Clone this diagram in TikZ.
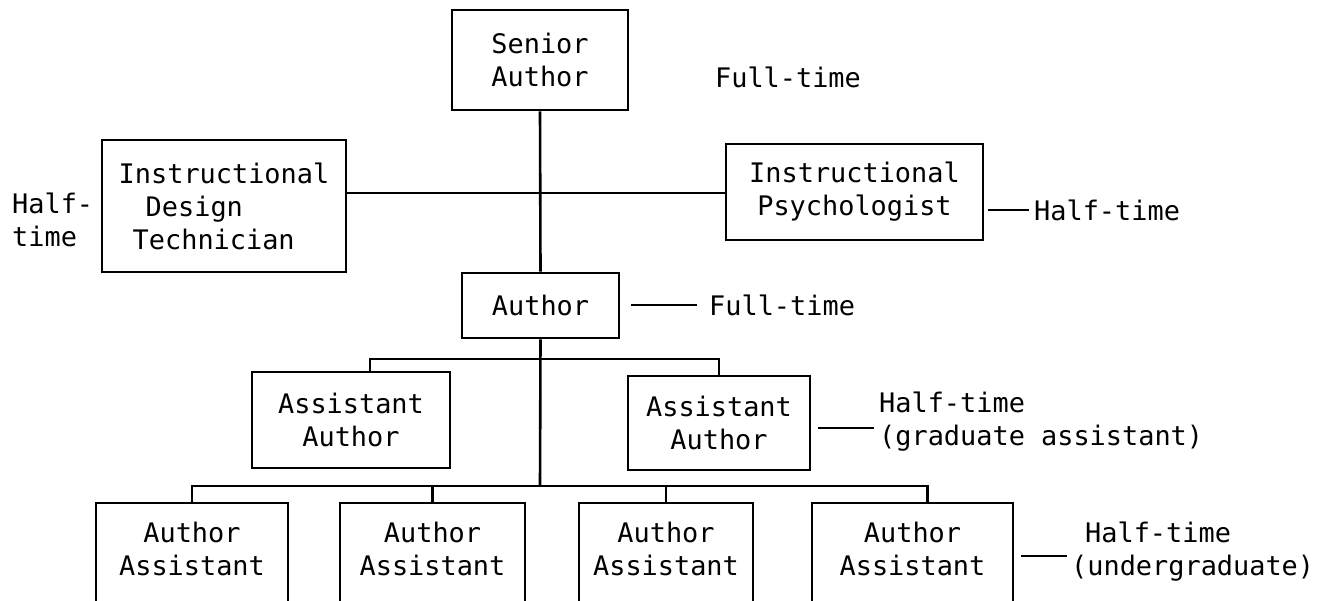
\documentclass[tikz,border=0pt]{standalone}
\usepackage{fontspec}
\newfontfamily\tf{DejaVu Sans Mono}
\usetikzlibrary{calc}
\begin{document}
\begin{tikzpicture}[x=1pt,y=-1pt,
  box/.style={draw, line width=2.6pt, inner sep=0pt, align=center, font={\tf\fontsize{26.9}{33}\selectfont}},
  lbl/.style={inner sep=0pt, align=left, font={\tf\fontsize{26.9}{33}\selectfont}},
  conn/.style={line width=2.6pt}]
\useasboundingbox (0,0) rectangle (1328,601);
\clip (0,0) rectangle (1328,601);
\fill[white] (0,0) rectangle (1328,601);
% boxes
\node[box, minimum width=176pt, minimum height=100pt] (senior) at (540,60) {Senior\\Author};
\node[lbl, anchor=center] (ft1) at (788,77) {Full-time};
\node[box, align=left, minimum width=244pt, minimum height=132pt] (idt) at (224,206) {Instructional\\\hspace*{27pt}Design\\\hspace*{14pt}Technician};
\node[lbl, anchor=west] (ht0) at (12,220) {Half-\\time};
\node[box, minimum width=257pt, minimum height=96pt] (ip) at (854.5,192) {Instructional\\Psychologist};
\node[lbl, anchor=west] (ht1) at (1034,210) {Half-time};
\node[box, minimum width=157pt, minimum height=65pt] (author) at (540.5,305.5) {Author};
\node[lbl, anchor=west] (ft2) at (709,305) {Full-time};
\node[box, minimum width=198pt, minimum height=96pt] (aa1) at (351,420) {Assistant\\Author};
\node[box, minimum width=182pt, minimum height=94pt] (aa2) at (719,423) {Assistant\\Author};
\node[lbl, anchor=west] (ht2) at (879,422) {Half-time\\(graduate assistant)};
\node[box, minimum width=192pt, minimum height=134pt] (bx1) at (192,570) {Author\\Assistant\\\strut};
\node[box, minimum width=185pt, minimum height=134pt] (bx2) at (432.5,570) {Author\\Assistant\\\strut};
\node[box, minimum width=174pt, minimum height=134pt] (bx3) at (666,570) {Author\\Assistant\\\strut};
\node[box, minimum width=201pt, minimum height=134pt] (bx4) at (912.5,570) {Author\\Assistant\\\strut};
\node[lbl, anchor=west] (ht3) at (1071,552) {\hspace*{14pt}Half-time\\(undergraduate)};
% junctions
\coordinate (j1) at (540,193);
\coordinate (b1) at (540,359);
\coordinate (b2) at (540,486);
% connectors
\draw[conn] (idt.east |- j1) -- (ip.west |- j1);
\draw[conn] (senior.south) -- (author.north);
\draw[conn] (author.south) -- (b2);
\draw[conn] ([xshift=19pt]aa1.north) |- (b1) -| (aa2.north);
\draw[conn] (bx1.north) |- (b2) -| ([xshift=15pt]bx4.north);
\draw[conn] (bx2.north) -- (bx2.north |- b2);
\draw[conn] (bx3.north) -- (bx3.north |- b2);
% label dashes
\draw[conn] ([xshift=11pt]author.east |- ft2.west) -- ([xshift=-12pt]ft2.west);
\draw[conn] ([xshift=4pt]ip.east |- ht1.west) -- ([xshift=-5pt]ht1.west);
\draw[conn] ([xshift=7pt,yshift=-6pt]aa2.east |- ht2.west) -- ([xshift=-5pt,yshift=-6pt]ht2.west);
\draw[conn] ([xshift=7pt,yshift=-4pt]bx4.east |- ht3.west) -- ([xshift=-4pt,yshift=-4pt]ht3.west);
\end{tikzpicture}
\end{document}
